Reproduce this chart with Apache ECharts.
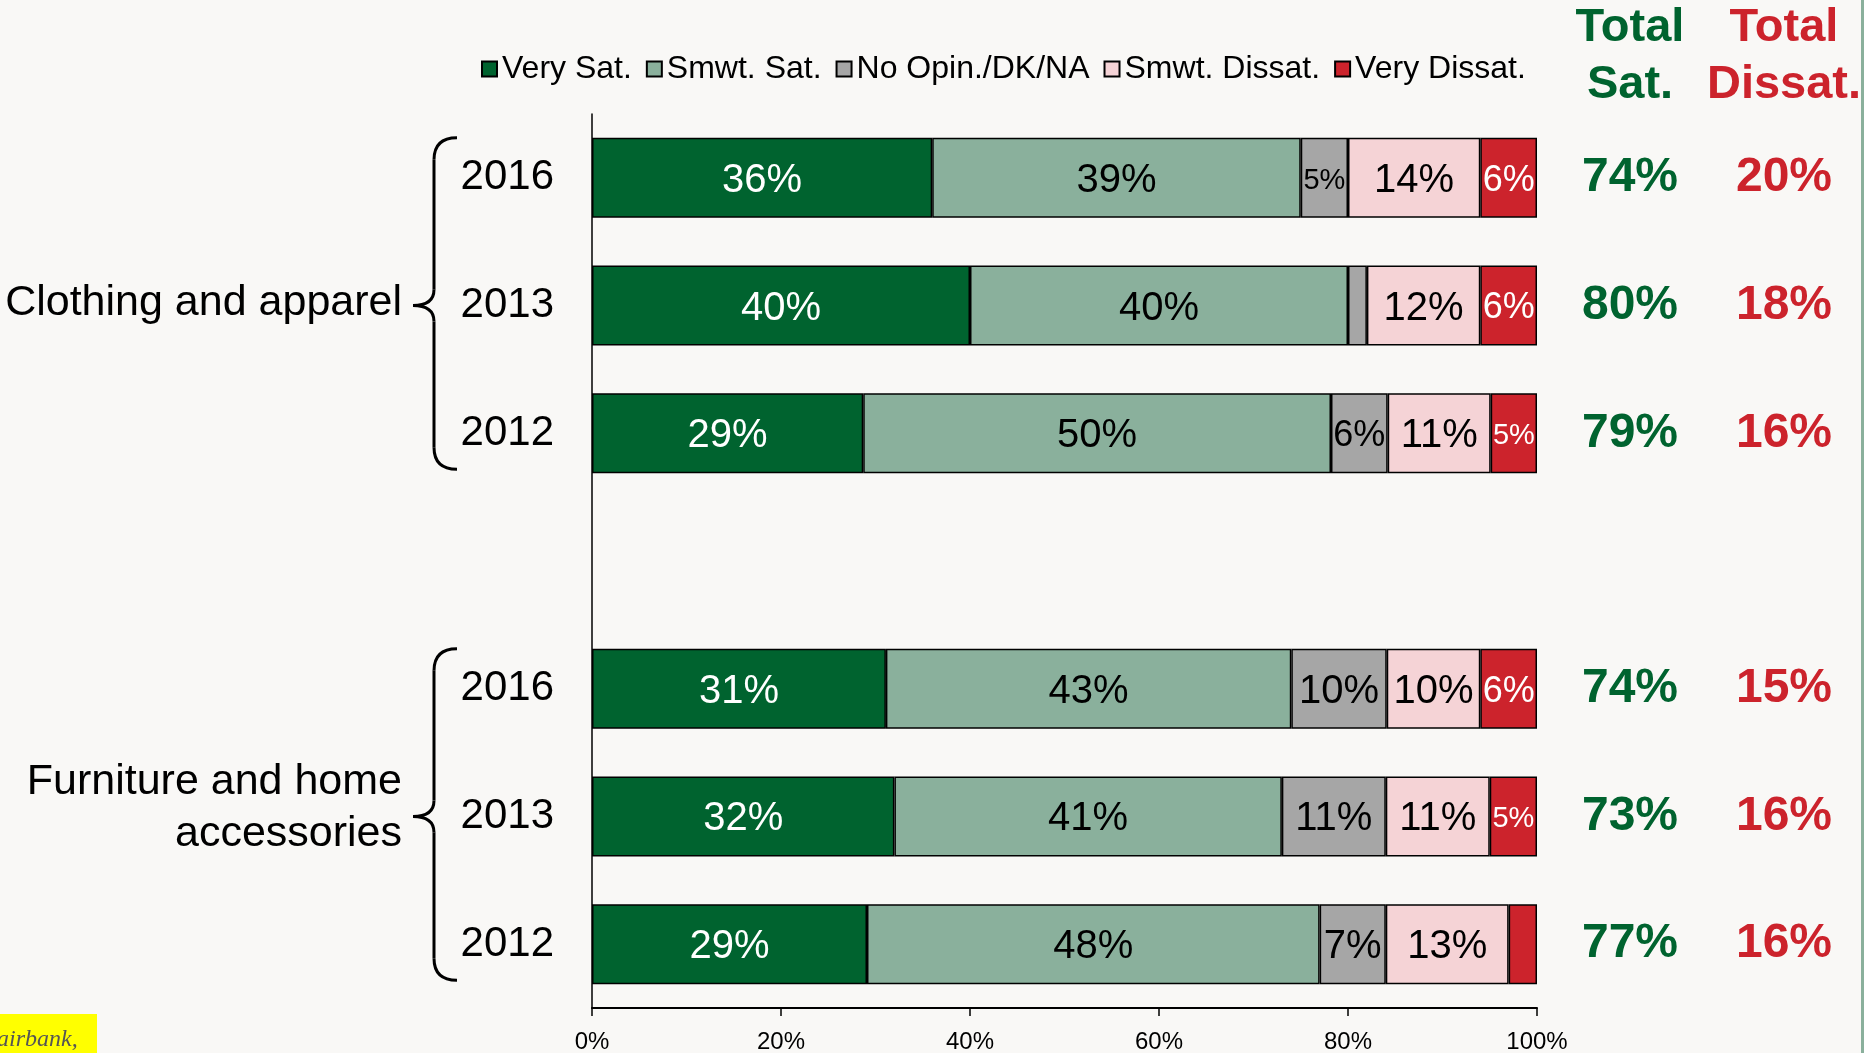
<!DOCTYPE html>
<html lang="en">
<head>
    <meta charset="UTF-8">
    <title>Satisfaction</title>
    <script src="https://cdn.jsdelivr.net/npm/echarts@6/dist/echarts.min.js"></script>
    <style>
        html, body { margin: 0; padding: 0; background: #f9f8f6; }
        .box { width: 1864px; height: 1053px; }
    </style>
</head>
<body>
    <div class="box"></div>
</body>
<script>
 // categories (one empty slot between the two groups)
 let years = ['2016', '2013', '2012', '', '2016', '2013', '2012']
 let groups = ['Clothing and apparel', 'Furniture and home\naccessories']
 let names = ['Very Sat.', 'Smwt. Sat.', 'No Opin./DK/NA', 'Smwt. Dissat.', 'Very Dissat.']
 // shares in %
 let verySat    = [36, 40, 28.7, '-', 31.1, 32, 29.1]
 let smwtSat    = [39, 40, 49.5, '-', 42.9, 41, 47.9]
 let noOpin     = [5, 2, 6, '-', 10.1, 11, 7]
 let smwtDissat = [14, 12, 10.9, '-', 9.9, 11, 13]
 let veryDissat = [6, 6, 4.9, '-', 6, 5, 3]
 // totals shown on the right
 let totalSat    = [74, 80, 79, '', 74, 73, 77]
 let totalDissat = [20, 18, 16, '', 15, 16, 16]
 let ticks = [0, 20, 40, 60, 80, 100]

 let colors = ['#00632f', '#8ab09c', '#a6a6a6', '#f5d3d6', '#cc232c']
 let labelColors = ['#fff', '#000', '#000', '#000', '#fff']
 let font = 'Liberation Sans, Arial, sans-serif'

 let chart = echarts.init(document.querySelector('.box'))

 let series = [verySat, smwtSat, noOpin, smwtDissat, veryDissat].map((arr, k) => ({
    name: names[k],
    type: 'bar',
    stack: 'all',
    barWidth: 80,
    itemStyle: { color: colors[k], borderColor: '#000', borderWidth: 1.5 },
    label: {
        show: true,
        position: 'inside',
        offset: [0, 3],
        fontFamily: font,
        color: labelColors[k],
        formatter: p => p.value < 4 ? '' : Math.round(p.value) + '%'
    },
    // smaller text on narrow bars
    data: arr.map(v => v === '-' ? v : {
        value: v,
        label: { fontSize: v < 6 ? 29 : (v < 7 ? 36 : 40) }
    })
 }))

 let sideAxis = (arr, color, margin) => ({
    type: 'category',
    data: years,
    inverse: true,
    position: 'right',
    axisLine: { show: false },
    axisTick: { show: false },
    axisLabel: {
        interval: 0,
        margin: margin,
        align: 'center',
        padding: [12, 0, 0, 0],
        color: color,
        fontFamily: font,
        fontWeight: 'bold',
        fontSize: 48,
        formatter: (v, i) => arr[i] === '' ? '' : arr[i] + '%'
    }
 })

 let option = {
    backgroundColor: '#f9f8f6',
    animation: false,
    grid: { left: 592, right: 327, top: 114, bottom: 45, outerBoundsMode: 'none' },
    legend: {
        data: names,
        left: 476,
        top: 48,
        icon: 'rect',
        itemWidth: 15,
        itemHeight: 15,
        itemGap: 14,
        textStyle: { fontFamily: font, fontSize: 32, color: '#000' }
    },
    xAxis: {
        type: 'value',
        min: ticks[0],
        max: ticks[ticks.length - 1],
        interval: 20,
        splitLine: { show: false },
        axisLine: { show: true, lineStyle: { color: '#000', width: 2 } },
        axisTick: { show: true, length: 8, lineStyle: { color: '#000', width: 1.5 } },
        axisLabel: { margin: 22, fontFamily: font, fontSize: 24, color: '#000', formatter: '{value}%' }
    },
    yAxis: [
        {
            type: 'category',
            data: years,
            inverse: true,
            axisLine: { show: true, lineStyle: { color: '#000', width: 1.5 } },
            axisTick: { show: false },
            axisLabel: { interval: 0, margin: 38, fontFamily: font, fontSize: 42, color: '#000' }
        },
        sideAxis(totalSat, '#00632f', 93),
        sideAxis(totalDissat, '#cc232c', 247)
    ],
    series: series
 }
 chart.setOption(option)

 // braces and group names, placed from the category scale
 let px = i => chart.convertToPixel({ yAxisIndex: 0 }, i)
 let stroke = { stroke: '#000', lineWidth: 3, fill: null }
 let curve = (x1, y1, cx, cy, x2, y2) => ({
    type: 'bezierCurve', shape: { x1: x1, y1: y1, cpx1: cx, cpy1: cy, x2: x2, y2: y2 }, style: stroke
 })
 let line = (x1, y1, x2, y2) => ({
    type: 'line', shape: { x1: x1, y1: y1, x2: x2, y2: y2 }, style: stroke
 })
 let graphics = []
 ;[[0, 2], [4, 6]].forEach((g, n) => {
    let c0 = px(g[0]), c2 = px(g[1])
    let top = c0 - 40, bot = c2 + 36, tip = (c0 + c2) / 2
    let xe = 457, xs = 434, xt = 413
    graphics.push(curve(xe, top, xs, top, xs, top + 22))
    graphics.push(line(xs, top + 22, xs, tip - 16))
    graphics.push(curve(xs, tip - 16, xs, tip, xt, tip))
    graphics.push(curve(xt, tip, xs, tip, xs, tip + 16))
    graphics.push(line(xs, tip + 16, xs, bot - 22))
    graphics.push(curve(xs, bot - 22, xs, bot, xe, bot))
    graphics.push({
        type: 'text',
        x: 402,
        y: n === 0 ? tip - 2 : tip - 8,
        style: {
            text: groups[n],
            font: '43px ' + font,
            fill: '#000',
            textAlign: 'right',
            textVerticalAlign: 'middle',
            lineHeight: 52
        }
    })
 })
 // column headers
 graphics.push({
    type: 'text', x: 1630, y: 0,
    style: { text: 'Total\nSat.', font: 'bold 47px ' + font, fill: '#00632f', textAlign: 'center', textVerticalAlign: 'top', lineHeight: 57 }
 })
 graphics.push({
    type: 'text', x: 1784, y: 0,
    style: { text: 'Total\nDissat.', font: 'bold 47px ' + font, fill: '#cc232c', textAlign: 'center', textVerticalAlign: 'top', lineHeight: 57 }
 })
 // right edge rule and the yellow note
 graphics.push({ type: 'rect', shape: { x: 1861, y: 0, width: 3, height: 1053 }, style: { fill: '#8ab09c' } })
 graphics.push({ type: 'rect', shape: { x: 0, y: 1014, width: 97, height: 39 }, style: { fill: '#ffff00' } })
 graphics.push({
    type: 'text', x: -3, y: 1040,
    style: { text: 'airbank,', font: 'italic 24px Liberation Serif, serif', fill: '#555', textVerticalAlign: 'middle' }
 })
 chart.setOption({ graphic: graphics })
</script>
</html>
